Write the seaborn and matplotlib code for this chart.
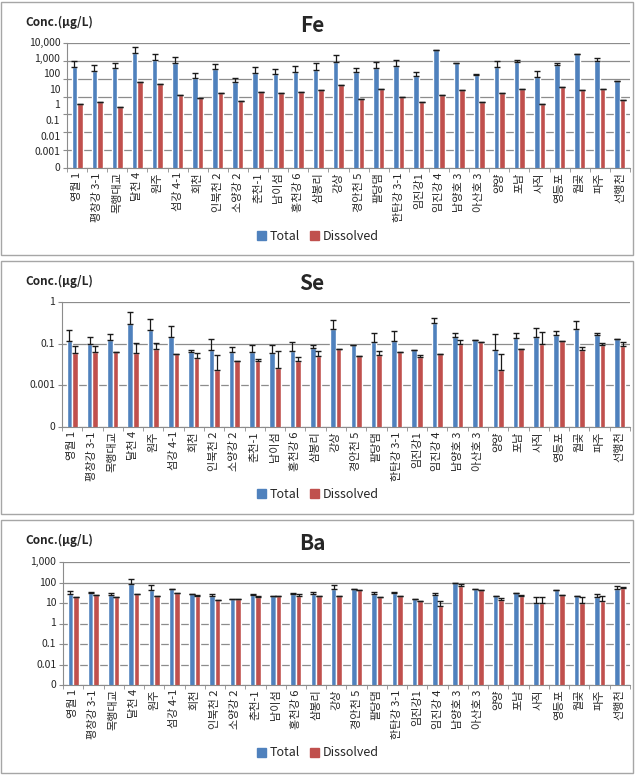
import numpy as np
import pandas as pd
import seaborn as sns
import matplotlib.pyplot as plt
from matplotlib.patches import Rectangle

sites = ["영월 1", "평창강 3-1", "목행대교", "달천 4", "원주", "섬강 4-1", "회천",
         "인북천 2", "소양강 2", "춘천-1", "남이섬", "홍천강 6", "삼봉리", "강상",
         "경안천 5", "팔당댐", "한탄강 3-1", "임진강1", "임진강 4", "남양호 3",
         "아산호 3", "양양", "포남", "사직", "영등포", "월곶", "파주", "선행천"]

# Fe
fe_total = [437, 284, 400, 2600, 1050, 740, 110, 350, 62, 210, 175, 240, 320, 840,
            230, 380, 500, 135, 4000, 770, 170, 460, 840, 125, 550, 2300, 960, 71]
fe_total_sd = [520, 290, 400, 3600, 1450, 860, 100, 330, 43, 250, 195, 280, 450, 1260,
               150, 460, 640, 105, 0, 0, 10, 500, 260, 145, 220, 0, 440, 0]
fe_diss = [3.7, 5.2, 2.6, 62, 50, 12, 8.4, 15, 5.7, 18, 15, 18, 24, 44,
           7.4, 28, 10, 5.2, 12, 24, 5.2, 15, 28, 3.7, 34, 24, 26, 6.5]
fe_diss_sd = [0] * 28

# Se
se_total = [0.0136, 0.0098, 0.0152, 0.087, 0.045, 0.022, 0.0042, 0.0052, 0.004, 0.0042,
            0.0036, 0.0045, 0.0063, 0.048, 0.0082, 0.0126, 0.014, 0.005, 0.1, 0.02,
            0.0147, 0.0047, 0.018, 0.02, 0.026, 0.048, 0.025, 0.017]
se_total_sd = [0.032, 0.012, 0.014, 0.25, 0.115, 0.048, 0.0007, 0.011, 0.0028, 0.0048,
               0.0049, 0.0075, 0.0027, 0.082, 0, 0.020, 0.026, 0, 0.08, 0.011,
               0, 0.025, 0.015, 0.038, 0.014, 0.078, 0.008, 0]
se_diss = [0.0036, 0.004, 0.0042, 0.0036, 0.0056, 0.0032, 0.0021, 0.00053, 0.0014, 0.0014,
           0.00068, 0.0014, 0.0025, 0.0056, 0.0025, 0.0029, 0.004, 0.0022, 0.0031, 0.0098,
           0.0118, 0.00057, 0.0056, 0.01, 0.014, 0.0052, 0.0082, 0.0076]
se_diss_sd = [0.0042, 0.0038, 0, 0.0069, 0.0049, 0, 0.0014, 0.0023, 0, 0.0004,
              0.0037, 0.0009, 0.0019, 0, 0, 0.0015, 0.0002, 0.0008, 0, 0.0052,
              0.0007, 0.0026, 0, 0.027, 0, 0.0018, 0.0028, 0.0051]

# Ba
ba_total = [26, 30, 25, 80, 42, 46, 26, 21, 16, 25, 22, 29, 27, 49,
            46, 29, 31, 15, 23.5, 93, 46, 22, 30, 10.4, 41, 21, 19.5, 49]
ba_total_sd = [11, 4, 5, 70, 32, 1, 2, 8, 0, 2, 0, 1, 7, 28,
               0, 4, 2, 0, 6.5, 2, 0, 0, 0, 9.6, 2, 1.5, 9.5, 17]
ba_diss = [20, 24, 20, 28, 23, 32, 23, 14, 15, 20, 21, 22, 22, 23,
           42, 19.5, 23, 12, 7.1, 64, 42, 13.5, 23, 10, 23.5, 10.4, 13, 55]
ba_diss_sd = [0, 0, 0, 0, 0, 0, 2, 0, 0, 3, 0, 6, 0, 0,
              0, 0, 0, 0, 5.4, 16, 0, 4, 2, 9, 0, 9.6, 10, 5]

fe_grid = [1e4, 1e3, 1e2, 1e1, 1, 0.1, 0.01, 0.001]
fe_labels = ["10,000", "1,000", "100", "10", "1", "0.1", "0.01", "0.001", "0"]
se_grid = [1, 1e-2, 1e-4, 1e-6]
se_labels = ["1", "0.1", "0.001", "0"]
ba_grid = [1e3, 1e2, 1e1, 1, 0.1, 0.01, 0.001]
ba_labels = ["1,000", "100", "10", "1", "0.1", "0.01", "0"]

BLUE = "#4F81BD"
RED = "#C0504D"
GRID = "#8C8C8C"

sns.set_style("white")
plt.rcParams['font.family'] = ['Noto Sans CJK KR', 'DejaVu Sans']

W, H = 635, 775
fig = plt.figure(figsize=(W / 100, H / 100), dpi=100)


def fx(px):
    return px / W


def fy(py):
    return 1 - py / H


def panel(element, total, total_sd, diss, diss_sd, grid, labels,
          top, plot_box, legend_y):
    """draws one element panel; plot_box = (x0, y0, x1, y1) in pixels"""
    x0, y0, x1, y1 = plot_box
    fig.add_artist(Rectangle((fx(1), fy(top + 254)), fx(632), 253 / H,
                             transform=fig.transFigure, fill=False,
                             edgecolor="#A6A6A6", lw=1))
    fig.text(fx(25), fy(top + 21), "Conc.(μg/L)", fontsize=8.5,
             fontweight="bold", va="center", ha="left")
    fig.text(fx(312), fy(top + 24), element, fontsize=15,
             fontweight="bold", va="center", ha="center")

    ax = fig.add_axes([fx(x0), fy(y1), fx(x1 - x0), (y1 - y0) / H])
    df = pd.DataFrame({
        "site": sites * 2,
        "kind": ["Total"] * len(sites) + ["Dissolved"] * len(sites),
        "value": total + diss,
    })
    sns.barplot(data=df, x="site", y="value", hue="kind",
                palette={"Total": BLUE, "Dissolved": RED},
                width=0.55, errorbar=None, saturation=1, legend=False,
                log_scale=True, ax=ax)
    ax.set_yscale("log")

    # upper-only error bars on each bar
    for cont, vals, sds in zip(ax.containers, [total, diss], [total_sd, diss_sd]):
        xs = [b.get_x() + b.get_width() / 2 for b in cont]
        ax.errorbar(xs, vals, yerr=[np.zeros(len(vals)), sds], fmt="none",
                    ecolor="#1a1a1a", elinewidth=0.9, capsize=2, capthick=1,
                    zorder=5)

    ax.set_ylim(min(grid), max(grid))
    ax.set_xlim(-0.5, len(sites) - 0.5)
    ax.set_yticks(grid)
    ax.set_yticklabels([])
    ax.yaxis.set_minor_locator(plt.NullLocator())
    ax.yaxis.grid(True, color=GRID, lw=0.9)
    ax.set_axisbelow(True)
    ax.tick_params(axis="y", which="major", length=3, color=GRID, left=True)
    for i, lab in enumerate(labels):
        ax.text(-0.012, 1 - i / (len(labels) - 1), lab, transform=ax.transAxes,
                ha="right", va="center", fontsize=7.5)

    ax.set_xticks(range(len(sites)))
    ax.set_xticklabels(sites, rotation=90, fontsize=8)
    ax.set_xticks(np.arange(-0.5, len(sites), 1), minor=True)
    ax.tick_params(axis="x", which="major", length=0, pad=3)
    ax.tick_params(axis="x", which="minor", length=3, color=GRID, bottom=True)
    ax.set_xlabel("")
    ax.set_ylabel("")
    sns.despine(ax=ax, top=True, right=True)
    for side in ["left", "bottom"]:
        ax.spines[side].set_color(GRID)

    handles = [Rectangle((0, 0), 1, 1, color=BLUE), Rectangle((0, 0), 1, 1, color=RED)]
    fig.legend(handles, ["Total", "Dissolved"], loc="center",
               bbox_to_anchor=(fx(318), fy(legend_y)), ncol=2, frameon=False,
               fontsize=9, handlelength=0.7, handleheight=0.7,
               handletextpad=0.3, columnspacing=0.8)
    return ax


panel("Fe", fe_total, fe_total_sd, fe_diss, fe_diss_sd, fe_grid, fe_labels,
      top=1, plot_box=(67, 43, 630, 168), legend_y=236)
panel("Se", se_total, se_total_sd, se_diss, se_diss_sd, se_grid, se_labels,
      top=260, plot_box=(62, 302, 630, 427), legend_y=494)
panel("Ba", ba_total, ba_total_sd, ba_diss, ba_diss_sd, ba_grid, ba_labels,
      top=519, plot_box=(63, 562, 630, 685), legend_y=753)

fig.savefig("out.png", dpi=100, facecolor="white")
